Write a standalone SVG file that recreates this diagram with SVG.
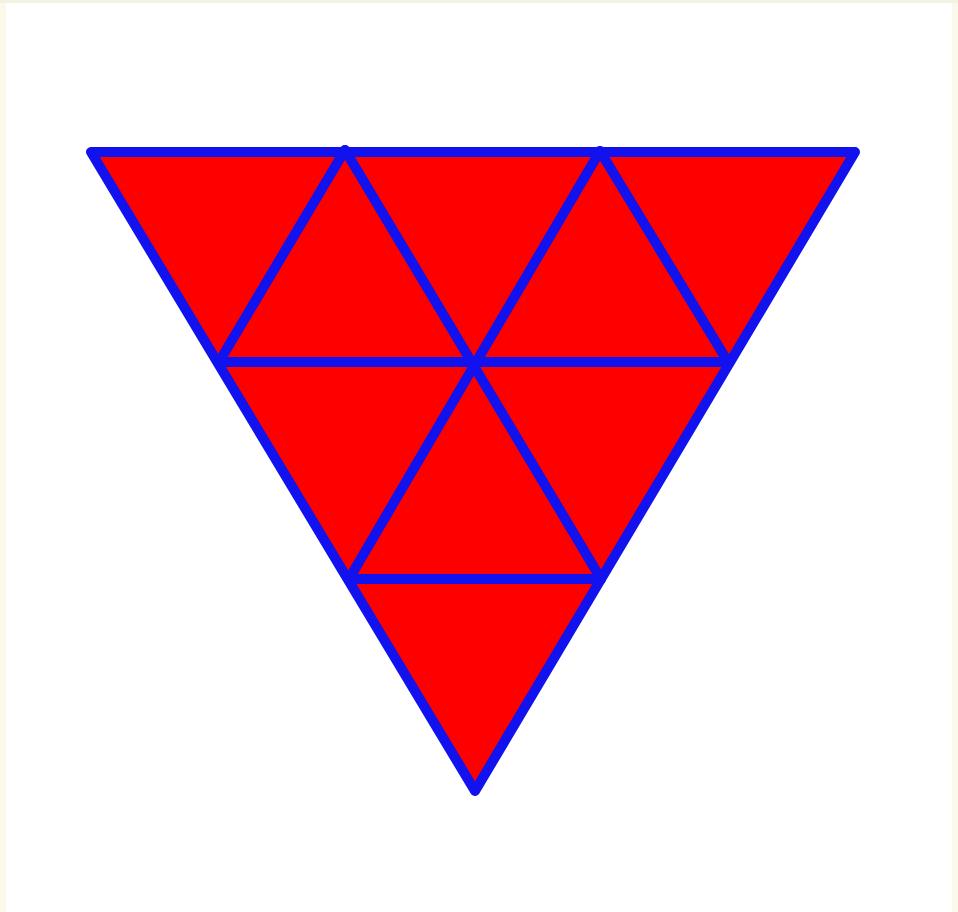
<svg xmlns="http://www.w3.org/2000/svg" width="958" height="912" viewBox="0 0 958 912">
<style>
.e{stroke:#1212EE;stroke-width:10;stroke-linecap:round;stroke-linejoin:round;fill:none}
</style>
<rect width="958" height="912" fill="#FFFFFF"/>
<rect x="0" y="0" width="6" height="912" fill="#FBFAEA"/>
<rect x="952" y="0" width="6" height="912" fill="#FBFAEA"/>
<rect x="0" y="0" width="958" height="3" fill="#F4F2E2"/>
<g id="triangle">
<polygon points="91,152 855,152 475,791" fill="#FF0000"/>
<g class="e">
<polygon points="91,152 855,152 475,791"/>
<line x1="219" y1="362" x2="728" y2="362"/>
<line x1="349" y1="579" x2="601" y2="579"/>
<line x1="345" y1="150" x2="601" y2="579"/>
<line x1="600" y1="151" x2="349" y2="579"/>
<line x1="345" y1="150" x2="219" y2="362"/>
<line x1="600" y1="151" x2="728" y2="362"/>
</g>
</g>
</svg>
